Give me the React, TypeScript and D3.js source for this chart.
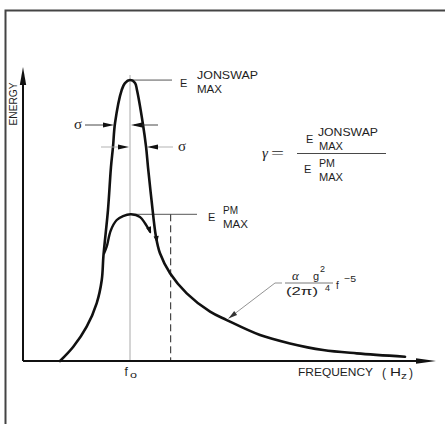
import React from "react";
import * as d3 from "d3";

// Frequency (relative to f0) and energy (relative to E_PM max)
const freqJ = [0.346, 0.47, 0.595, 0.689, 0.736, 0.752, 0.794, 0.822, 0.841, 0.86, 0.922, 0.953, 1.0, 1.047, 1.065, 1.119, 1.15, 1.168, 1.201, 1.243, 1.28, 1.374, 1.53, 1.748, 1.904, 2.215, 2.495, 2.804, 3.119, 3.57];
const energyJ = [0, 0.097, 0.234, 0.395, 0.552, 0.72, 1.029, 1.322, 1.459, 1.622, 1.847, 1.895, 1.915, 1.895, 1.847, 1.622, 1.459, 1.322, 1.097, 0.845, 0.734, 0.598, 0.461, 0.336, 0.279, 0.177, 0.12, 0.075, 0.052, 0.029];
const freqPM = [0.758, 0.782, 0.82, 0.876, 0.935, 1.01, 1.093, 1.14, 1.187];
const energyPM = [0.735, 0.779, 0.89, 0.961, 0.988, 1.0, 0.982, 0.939, 0.881];

const F0 = 1.0;
const E_J_MAX = 1.915;
const E_PM_MAX = 1.0;
const DASH_F = 1.38;

const W = 445, H = 424;
const x = d3.scaleLinear().domain([0, 3.85]).range([23, 435]);
const y = d3.scaleLinear().domain([0, 2]).range([361, 67.6]);

function arrowHead(tx: number, ty: number, angleDeg: number, len = 10, half = 2.6) {
  const a = (angleDeg * Math.PI) / 180;
  const bx = tx - len * Math.cos(a), by = ty - len * Math.sin(a);
  const px = -Math.sin(a) * half, py = Math.cos(a) * half;
  return `M${tx},${ty}L${bx + px},${by + py}L${bx - px},${by - py}Z`;
}

const lineGen = d3.line<[number, number]>()
  .x((d) => x(d[0]))
  .y((d) => y(d[1]))
  .curve(d3.curveCatmullRom.alpha(0.5));

const SANS = "'Liberation Sans', Arial, sans-serif";
const SERIF = "'Liberation Serif', 'DejaVu Serif', serif";
const TC = "#1e1e1e";

function T({ x, y, s, w, size = 11, family = SANS, italic = false, anchor, transform }: any) {
  return (
    <text
      x={x}
      y={y}
      transform={transform}
      fontFamily={family}
      fontSize={size}
      fontStyle={italic ? "italic" : "normal"}
      fill={TC}
      textAnchor={anchor}
      textLength={w}
      lengthAdjust={w ? "spacingAndGlyphs" : undefined}
    >
      {s}
    </text>
  );
}

export default function App() {
  const jData: [number, number][] = freqJ.map((f, i) => [f, energyJ[i]]);
  const pmData: [number, number][] = freqPM.map((f, i) => [f, energyPM[i]]);
  const x0 = x(0), y0 = y(0);
  const xf0 = x(F0);
  const yJ = y(E_J_MAX), yPM = y(E_PM_MAX);
  const xd = x(DASH_F);

  const pe = pmData[pmData.length - 1], pp = pmData[pmData.length - 2];
  const peAng = (Math.atan2(y(pe[1]) - y(pp[1]), x(pe[0]) - x(pp[0])) * 180) / Math.PI;
  const ja = jData[19], jb = jData[18];
  const jAng = (Math.atan2(y(ja[1]) - y(jb[1]), x(ja[0]) - x(jb[0])) * 180) / Math.PI;

  const yU = 125, yL = 147;

  return (
    <svg width={W} height={H} style={{ position: "absolute", left: 0, top: 0, background: "#fff" }}>
      {/* frame */}
      <path d={`M5.5,${H}V10.5H${W}`} fill="none" stroke="#444" strokeWidth={2} />

      {/* f0 line */}
      <line x1={xf0} x2={xf0} y1={75} y2={y0} stroke="#aaa" strokeWidth={1} />
      {/* dashed line */}
      <line x1={xd} x2={xd} y1={yPM} y2={y0} stroke="#222" strokeWidth={1} strokeDasharray="7,4" />
      {/* peak lines */}
      <line x1={xf0} x2={172} y1={yJ} y2={yJ} stroke="#444" strokeWidth={0.9} />
      <line x1={x(1.01)} x2={197} y1={yPM} y2={yPM} stroke="#444" strokeWidth={0.9} />

      {/* axes */}
      <line x1={x0} x2={417} y1={y0} y2={y0} stroke="#111" strokeWidth={2} />
      <path d={arrowHead(436, y0, 0, 20, 2.8)} fill="#111" />
      <line x1={x0} x2={x0} y1={y0} y2={84} stroke="#111" strokeWidth={2} />
      <path d={arrowHead(x0, 67, -90, 18, 3.2)} fill="#111" />

      {/* curves */}
      <path d={lineGen(jData) || ""} fill="none" stroke="#111" strokeWidth={2.6} strokeLinecap="round" />
      <path d={lineGen(pmData) || ""} fill="none" stroke="#111" strokeWidth={2.4} strokeLinecap="round" />
      <path d={arrowHead(x(pe[0]) + 1, y(pe[1]) + 2, peAng + 10, 7, 2.6)} fill="#111" />
      <path d={arrowHead(x(ja[0]) + 1, y(ja[1]) + 6, jAng, 7, 2.6)} fill="#111" />

      {/* sigma marks */}
      <line x1={85} x2={110} y1={yU} y2={yU} stroke="#333" strokeWidth={0.9} />
      <path d={arrowHead(114, yU, 0, 11, 2.4)} fill="#111" />
      <line x1={134} x2={158} y1={yU} y2={yU} stroke="#333" strokeWidth={0.9} />
      <path d={arrowHead(131, yU, 180, 11, 2.4)} fill="#111" />
      <line x1={101} x2={125} y1={yL} y2={yL} stroke="#aaa" strokeWidth={0.9} />
      <path d={arrowHead(129, yL, 0, 11, 2.4)} fill="#111" />
      <line x1={150} x2={173} y1={yL} y2={yL} stroke="#aaa" strokeWidth={0.9} />
      <path d={arrowHead(147, yL, 180, 11, 2.4)} fill="#111" />
      <T x={74} y={yU + 4} s="σ" family={SERIF} size={15} />
      <T x={178} y={yL + 4} s="σ" family={SERIF} size={15} />

      {/* E JONSWAP MAX */}
      <T x={180} y={87} s="E" size={11} />
      <T x={197} y={79} s="JONSWAP" size={11} w={61} />
      <T x={197} y={93} s="MAX" size={11} w={25} />

      {/* E PM MAX */}
      <T x={208} y={221} s="E" size={11} />
      <T x={223} y={214} s="PM" size={11} w={15} />
      <T x={223} y={228} s="MAX" size={11} w={25} />

      {/* gamma formula */}
      <T x={262} y={158} s="γ" family={SERIF} size={15} italic />
      <T x={271} y={158} s="=" family={SERIF} size={15} w={13} />
      <T x={306} y={143} s="E" size={11} />
      <T x={318} y={136} s="JONSWAP" size={11} w={60} />
      <T x={319} y={150} s="MAX" size={11} w={24} />
      <line x1={297} x2={386} y1={153.5} y2={153.5} stroke="#333" strokeWidth={0.9} />
      <T x={304} y={173} s="E" size={11} />
      <T x={319} y={167} s="PM" size={11} w={16} />
      <T x={319} y={181} s="MAX" size={11} w={24} />

      {/* f^-5 formula */}
      <line x1={x(1.92)} x2={275} y1={y(0.29)} y2={283} stroke="#777" strokeWidth={0.8} />
      <line x1={275} x2={282} y1={283} y2={283} stroke="#777" strokeWidth={0.8} />
      <path d={arrowHead(x(1.92), y(0.29), 143, 9, 2.4)} fill="#333" />
      <line x1={285} x2={333} y1={283} y2={283} stroke="#555" strokeWidth={0.8} />
      <T x={292} y={280} s="α" family={SERIF} size={13} italic />
      <T x={313} y={280} s="g" size={11} />
      <T x={320} y={272} s="2" size={9} />
      <T x={286} y={295} s="(2π)" size={11} w={32} />
      <T x={325} y={291} s="4" size={9} />
      <T x={336} y={289} s="f" size={10} />
      <T x={344} y={282} s="−5" size={9.5} w={12} />

      {/* axis labels */}
      <T transform={`translate(16.5,104) rotate(-90)`} x={0} y={0} s="ENERGY" size={10} anchor="middle" w={43} />
      <T x={124.5} y={376} s="f" size={12} />
      <T x={130} y={378} s="o" size={9} w={7} />
      <T x={298} y={376} s="FREQUENCY" size={11} w={75} />
      <T x={382} y={377} s="(" size={12} />
      <T x={390} y={376} s="H" size={11} w={11} />
      <T x={401} y={379} s="z" size={9} w={6} />
      <T x={409} y={377} s=")" size={12} />
    </svg>
  );
}
